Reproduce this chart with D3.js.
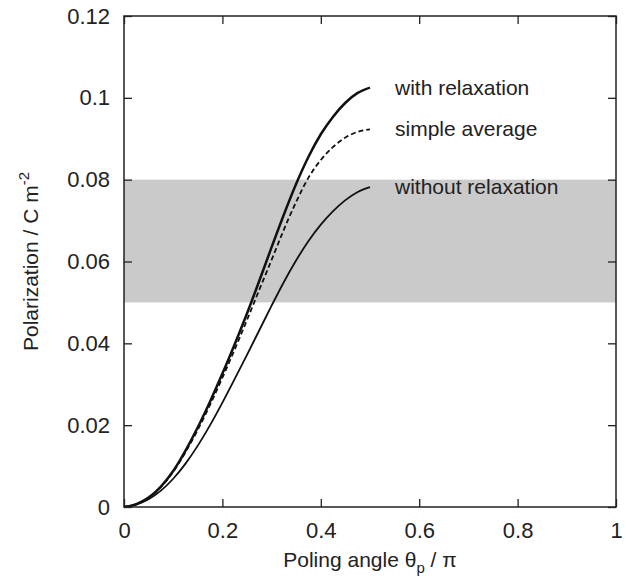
<!DOCTYPE html>
<html><head><meta charset="utf-8">
<script src="https://cdn.jsdelivr.net/npm/d3@7"></script>
<style>body{margin:0;background:#fff;} text{font-family:"Liberation Sans",Arial,sans-serif;fill:#222;}</style>
</head><body><div id="chart"></div>
<script>
// poling angle (fraction of pi)
var angle = [0,0.025,0.05,0.075,0.1,0.125,0.15,0.175,0.2,0.225,0.25,0.275,0.3,0.325,0.35,0.375,0.4,0.425,0.45,0.475,0.5];
var withRelax = [0,0.0007,0.0023,0.005,0.0088,0.0138,0.0195,0.0258,0.0326,0.0398,0.0473,0.0553,0.0635,0.0715,0.079,0.0856,0.0911,0.0954,0.0988,0.1012,0.1025];
var simpleAvg = [0,0.0007,0.0023,0.0049,0.0086,0.0134,0.0189,0.025,0.0316,0.0385,0.0457,0.0531,0.0604,0.0678,0.0746,0.0805,0.0848,0.088,0.0903,0.0917,0.0923];
var withoutRelax = [0,0.0006,0.0019,0.004,0.0069,0.0106,0.015,0.02,0.0255,0.0313,0.0372,0.0432,0.0492,0.055,0.0603,0.065,0.069,0.0723,0.075,0.077,0.0782];
var band = [0.05, 0.08];
var xTicks = [0,0.2,0.4,0.6,0.8,1];
var yTicks = [0,0.02,0.04,0.06,0.08,0.1,0.12];

var W = 626, H = 581;
var m = {left:124, top:16, right:10, bottom:74};
var w = W - m.left - m.right, h = H - m.top - m.bottom;

var svg = d3.select("#chart").append("svg").attr("width", W).attr("height", H);
var g = svg.append("g").attr("transform", "translate(" + m.left + "," + m.top + ")");

var x = d3.scaleLinear().domain([0,1]).range([0,w]);
var y = d3.scaleLinear().domain([0,0.12]).range([h,0]);

// shaded band
g.append("rect")
  .attr("x", 0).attr("width", w)
  .attr("y", y(band[1])).attr("height", y(band[0]) - y(band[1]))
  .attr("fill", "#cacaca");

var line = d3.line().curve(d3.curveMonotoneX)
  .x(function(d){ return x(d[0]); }).y(function(d){ return y(d[1]); });

function series(vals){ return angle.map(function(a,i){ return [a, vals[i]]; }); }

g.append("path").datum(series(withoutRelax)).attr("d", line)
  .attr("fill","none").attr("stroke","#111").attr("stroke-width",1.8);
g.append("path").datum(series(simpleAvg)).attr("d", line)
  .attr("fill","none").attr("stroke","#111").attr("stroke-width",1.8).attr("stroke-dasharray","5,3");
g.append("path").datum(series(withRelax)).attr("d", line)
  .attr("fill","none").attr("stroke","#111").attr("stroke-width",2.5);

// axes: ticks inside on all four sides
function styleAxis(sel){
  sel.select(".domain").remove();
  sel.selectAll(".tick line").attr("stroke","#222").attr("stroke-width",1.3);
  sel.selectAll(".tick text").style("font-size","22px").attr("fill","#222");
}
g.append("g").attr("transform","translate(0,"+h+")")
  .call(d3.axisBottom(x).tickValues(xTicks).tickSizeInner(-8).tickPadding(15).tickFormat(d3.format("~g")))
  .call(styleAxis);
g.append("g")
  .call(d3.axisTop(x).tickValues(xTicks).tickSizeInner(-8).tickFormat(""))
  .call(styleAxis);
g.append("g")
  .call(d3.axisLeft(y).tickValues(yTicks).tickSizeInner(-8).tickPadding(14).tickFormat(d3.format("~g")))
  .call(styleAxis);
g.append("g").attr("transform","translate("+w+",0)")
  .call(d3.axisRight(y).tickValues(yTicks).tickSizeInner(-8).tickFormat(""))
  .call(styleAxis);

g.append("rect").attr("width", w).attr("height", h)
  .attr("fill","none").attr("stroke","#222").attr("stroke-width",1.5);

// curve labels
var labels = [["with relaxation", withRelax], ["simple average", simpleAvg], ["without relaxation", withoutRelax]];
labels.forEach(function(l){
  var v = l[1][l[1].length-1];
  g.append("text").attr("x", x(0.5) + 25).attr("y", y(v) + 7)
    .style("font-size","21px").text(l[0]);
});

// axis titles
var xt = svg.append("text").attr("x", m.left + w/2).attr("y", 567)
  .attr("text-anchor","middle").style("font-size","21px");
xt.append("tspan").text("Poling angle \u03b8");
xt.append("tspan").attr("dy", 6).style("font-size","15px").text("p");
xt.append("tspan").attr("dy", -6).text(" / \u03c0");

var yt = svg.append("text").attr("transform","translate(38," + (m.top + h/2) + ") rotate(-90)")
  .attr("text-anchor","middle").style("font-size","21px");
yt.append("tspan").text("Polarization / C m");
yt.append("tspan").attr("dy", -9).style("font-size","15px").text("-2");
</script>
</body></html>
